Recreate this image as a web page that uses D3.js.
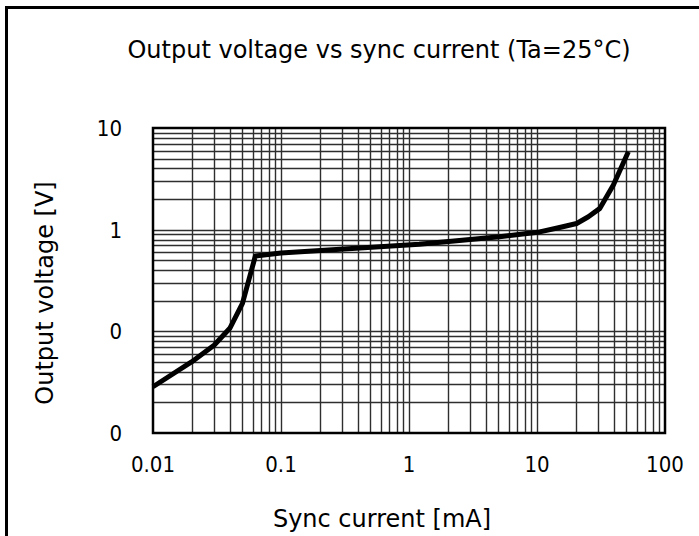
<!DOCTYPE html>
<html>
<head>
<meta charset="utf-8">
<script src="https://cdn.jsdelivr.net/npm/d3@7"></script>
<style>
  body { margin: 0; background: #fff; }
  text { font-family: "DejaVu Sans", Verdana, sans-serif; fill: #000; }
  .tick-label { font-family: "DejaVu Sans Condensed", "DejaVu Sans", sans-serif; font-stretch: condensed; }
</style>
</head>
<body>
<div id="chart"></div>
<script>
// 数据：同步电流 [mA] 与输出电压 [V]
const currentMA = [0.01, 0.02, 0.03, 0.04, 0.05, 0.063, 0.1, 1.2, 5.1, 10.5, 15, 20.4, 25.2, 31, 39.5, 51.7];
const voltageV = [0.0285, 0.050, 0.073, 0.108, 0.188, 0.55, 0.59, 0.72, 0.85, 0.95, 1.05, 1.15, 1.34, 1.62, 2.75, 5.83];

const xTicks = [0.01, 0.1, 1, 10, 100];
const xTickLabels = ["0.01", "0.1", "1", "10", "100"];
const yTicks = [0.01, 0.1, 1, 10];
const yTickLabels = ["0", "0", "1", "10"];

const titleText = "Output voltage vs sync current (Ta=25°C)";
const xTitle = "Sync current [mA]";
const yTitle = "Output voltage [V]";

function drawChart(container) {
    d3.select(container).html("");

    const W = 699, H = 536;
    const margin = {top: 128, right: 34, bottom: 103, left: 153},
        width = W - margin.left - margin.right,
        height = H - margin.top - margin.bottom;

    const root = d3.select(container)
        .append("svg")
        .attr("width", W)
        .attr("height", H);

    // 外框
    root.append("rect")
        .attr("x", 6.5).attr("y", 7.5)
        .attr("width", W + 20).attr("height", H + 20)
        .attr("fill", "none")
        .attr("stroke", "#000")
        .attr("stroke-width", 3);

    const svg = root.append("g")
        .attr("transform", `translate(${margin.left}, ${margin.top})`);

    const x = d3.scaleLog().domain([0.01, 100]).range([0, width]);
    const y = d3.scaleLog().domain([0.01, 10]).range([height, 0]);

    // 网格线（每个十倍区间 1..9）
    const xGrid = [], yGrid = [];
    for (let d = 0.01; d < 100; d *= 10)
        for (let k = 2; k <= 9; k++) xGrid.push(+(d * k).toPrecision(3));
    xTicks.slice(1, -1).forEach(v => xGrid.push(v));
    for (let d = 0.01; d < 10; d *= 10)
        for (let k = 2; k <= 9; k++) yGrid.push(+(d * k).toPrecision(3));
    yTicks.slice(1, -1).forEach(v => yGrid.push(v));

    svg.append("g").selectAll("line")
        .data(xGrid).enter().append("line")
        .attr("x1", d => Math.round(x(d)) + 0.5)
        .attr("x2", d => Math.round(x(d)) + 0.5)
        .attr("y1", 0).attr("y2", height)
        .attr("stroke", "#2e2e2e")
        .attr("stroke-width", 1.4);

    svg.append("g").selectAll("line")
        .data(yGrid).enter().append("line")
        .attr("y1", d => Math.round(y(d)) + 0.5)
        .attr("y2", d => Math.round(y(d)) + 0.5)
        .attr("x1", 0).attr("x2", width)
        .attr("stroke", "#2e2e2e")
        .attr("stroke-width", 1.4);

    // 绘图区边框
    svg.append("rect")
        .attr("x", 0).attr("y", 0)
        .attr("width", width).attr("height", height)
        .attr("fill", "none")
        .attr("stroke", "#000")
        .attr("stroke-width", 2.5);

    // 曲线
    const line = d3.line()
        .x((d, i) => x(currentMA[i]))
        .y(d => y(d));

    svg.append("path")
        .datum(voltageV)
        .attr("fill", "none")
        .attr("stroke", "#000")
        .attr("stroke-width", 5)
        .attr("stroke-linejoin", "round")
        .attr("d", line);

    // 坐标轴刻度标签
    svg.append("g").selectAll("text")
        .data(xTicks).enter().append("text")
        .attr("class", "tick-label")
        .attr("x", d => x(d))
        .attr("y", height + 39)
        .attr("text-anchor", "middle")
        .style("font-size", "22px")
        .text((d, i) => xTickLabels[i]);

    svg.append("g").selectAll("text")
        .data(yTicks).enter().append("text")
        .attr("class", "tick-label")
        .attr("x", -31)
        .attr("y", d => y(d) + 8)
        .attr("text-anchor", "end")
        .style("font-size", "22px")
        .text((d, i) => yTickLabels[i]);

    // 标题
    root.append("text")
        .attr("x", 379)
        .attr("y", 58)
        .attr("text-anchor", "middle")
        .style("font-size", "24px")
        .text(titleText);

    root.append("text")
        .attr("x", 382)
        .attr("y", 527)
        .attr("text-anchor", "middle")
        .style("font-size", "24px")
        .text(xTitle);

    root.append("text")
        .attr("transform", "translate(53, 293) rotate(-90)")
        .attr("text-anchor", "middle")
        .style("font-size", "24px")
        .text(yTitle);
}

drawChart("#chart");
</script>
</body>
</html>
